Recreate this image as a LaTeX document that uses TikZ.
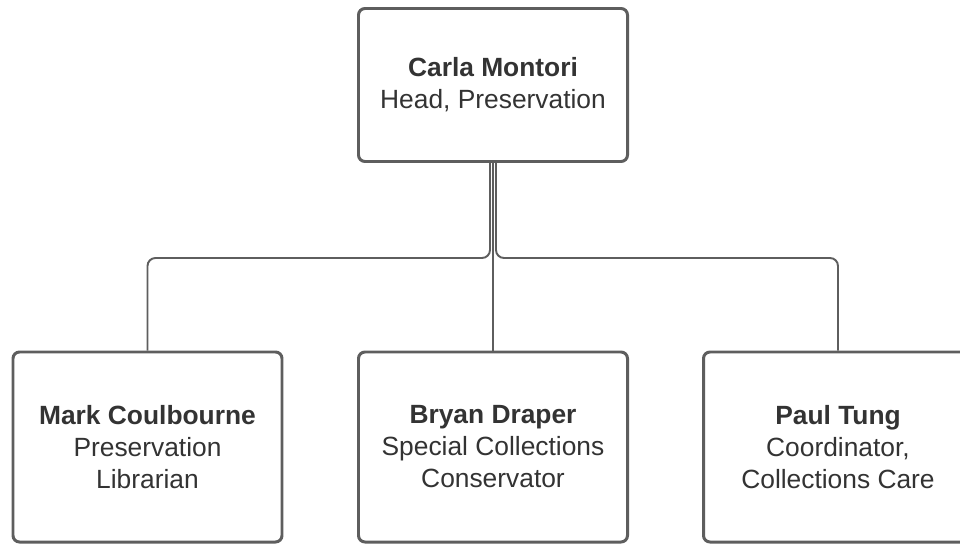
\documentclass[tikz,border=0pt]{standalone}
\usepackage{fontspec}
\setmainfont{Liberation Sans}
\usepackage{tikz}

\begin{document}
\begin{tikzpicture}
\definecolor{linecolor}{RGB}{94,94,94}
\definecolor{textcolor}{RGB}{51,51,51}
\tikzset{
  person/.style={draw=linecolor,line width=1.7pt,rounded corners=0.13cm,fill=white,
    text=textcolor,align=center,font=\fontsize{15}{18.2}\selectfont,
    minimum width=5.38cm,inner sep=0pt},
  conn/.style={draw=linecolor,line width=1.1pt,rounded corners=0.16cm}
}
\clip (0,0) rectangle (19.2,10.9);
\useasboundingbox (0,0) rectangle (19.2,10.9);
\fill [white] (0,0) rectangle (19.2,10.9);
\node [person,minimum height=3.06cm] (carla) at (9.86,9.2) {\textbf{Carla Montori}\\Head, Preservation};
\node [person,minimum height=3.8cm] (mark) at (2.95,1.96) {\textbf{Mark Coulbourne}\\Preservation\\Librarian};
\node [person,minimum height=3.8cm] (bryan) at (9.86,1.96) {\textbf{Bryan Draper}\\Special Collections\\Conservator};
\node [person,minimum height=3.8cm] (paul) at (16.76,1.96) {\textbf{Paul Tung}\\Coordinator,\\Collections Care};
\coordinate (busleft) at (2.95,5.74);
\coordinate (busright) at (16.76,5.74);
\draw [conn] ([xshift=-0.06cm]carla.south) |- (busleft) -- (mark.north);
\draw [conn] (carla.south) -- (bryan.north);
\draw [conn] ([xshift=0.06cm]carla.south) |- (busright) -- (paul.north);
\end{tikzpicture}
\end{document}
